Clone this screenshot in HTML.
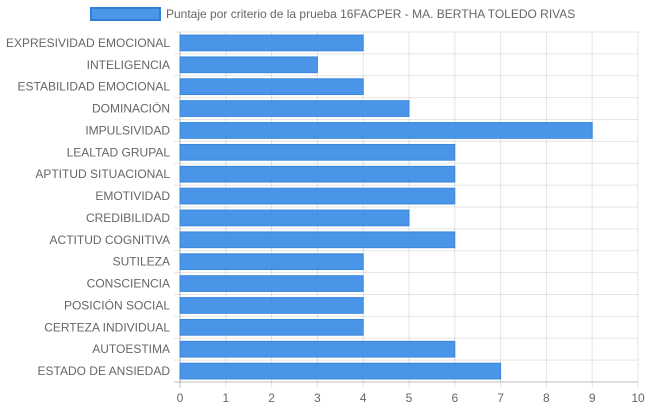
<!DOCTYPE html>
<html><head><meta charset="utf-8"><style>
body{margin:0;background:#fff;width:648px;height:410px;overflow:hidden}
svg text{font-family:"Liberation Sans",sans-serif;font-size:12px;fill:#666}
</style></head><body>
<svg id="chart" width="648" height="410">
<g>
<rect x="91" y="8" width="69" height="12" fill="#4a97e8" stroke="#2f7fd8" stroke-width="2"/>
<text x="166" y="18">Puntaje por criterio de la prueba 16FACPER - MA. BERTHA TOLEDO RIVAS</text>
</g>
<g id="grid"></g><g id="bars"></g><g id="labels"></g>
</svg>
<script>
const categories=["EXPRESIVIDAD EMOCIONAL","INTELIGENCIA","ESTABILIDAD EMOCIONAL","DOMINACIÓN","IMPULSIVIDAD","LEALTAD GRUPAL","APTITUD SITUACIONAL","EMOTIVIDAD","CREDIBILIDAD","ACTITUD COGNITIVA","SUTILEZA","CONSCIENCIA","POSICIÓN SOCIAL","CERTEZA INDIVIDUAL","AUTOESTIMA","ESTADO DE ANSIEDAD"];
const values=[4,3,4,5,9,6,6,6,5,6,4,4,4,4,6,7];
const xTicks=[0,1,2,3,4,5,6,7,8,9,10];
const L=180,R=638,T=32,B=382,NS="http://www.w3.org/2000/svg";
const xs=v=>L+(v-0)/(10-0)*(R-L);
const band=(B-T)/categories.length;
const yc=i=>T+band*(i+0.5);
function mk(tag,attrs,parent){const e=document.createElementNS(NS,tag);for(const k in attrs)e.setAttribute(k,attrs[k]);document.getElementById(parent).appendChild(e);return e;}
xTicks.forEach(t=>{
  const l=mk('line',{x1:xs(t),x2:xs(t),y1:T,y2:B+6,stroke:t===0?'rgba(0,0,0,0.25)':'rgba(0,0,0,0.1)'},'grid');
  
  
  const tx=mk('text',{x:xs(t),y:B+20,'text-anchor':'middle'},'labels');
  tx.textContent=t;
  
  
});
for(let i=0;i<=categories.length;i++){
  const y=T+band*i;
  const l=mk('line',{x1:L-6,x2:R,y1:y,y2:y,stroke:i===categories.length?'rgba(0,0,0,0.25)':'rgba(0,0,0,0.1)'},'grid');
  
  
}
const bh=band*0.72;
categories.forEach((c,i)=>{
  const r=mk('rect',{x:xs(0),y:yc(i)-bh/2,width:xs(values[i])-xs(0),height:bh,fill:'rgba(54,138,228,0.9)',stroke:'#3a87dc','stroke-width':1},'bars');
  
  
  const tx=mk('text',{x:L-10,y:yc(i)+4,'text-anchor':'end'},'labels');
  tx.textContent=c;
  
  
});
</script>
</body></html>
